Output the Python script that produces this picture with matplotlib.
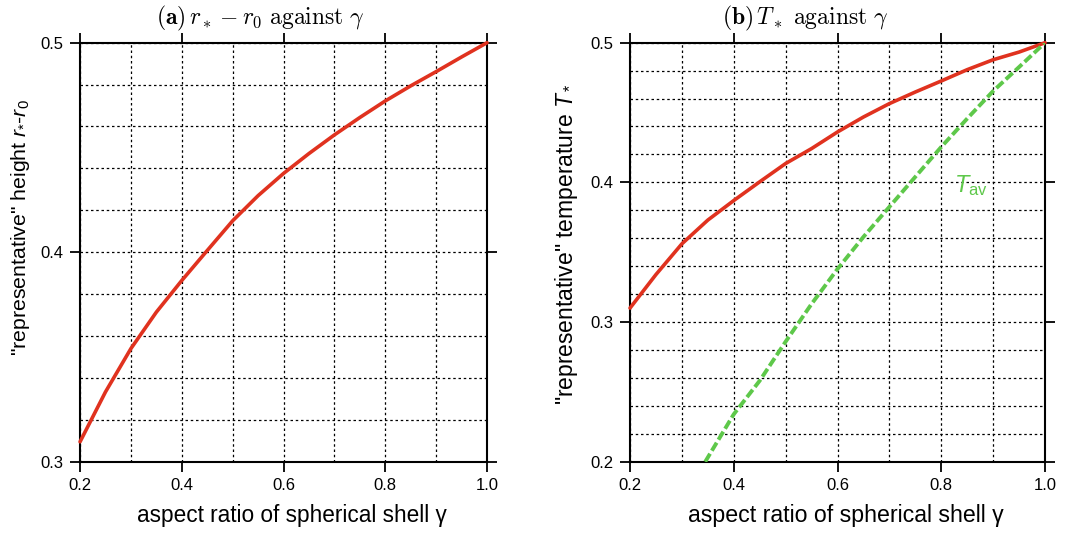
import matplotlib
matplotlib.use('Agg')
import matplotlib.pyplot as plt
import numpy as np
from matplotlib.ticker import MultipleLocator

plt.rcParams['font.family'] = ['Liberation Sans', 'DejaVu Sans']
plt.rcParams['mathtext.fontset'] = 'custom'
plt.rcParams['mathtext.rm'] = 'Liberation Sans'
plt.rcParams['mathtext.it'] = 'Liberation Sans:italic'
plt.rcParams['mathtext.bf'] = 'Liberation Sans:bold'

# aspect ratio of the spherical shell
gamma = [0.2, 0.25, 0.3, 0.35, 0.4, 0.45, 0.5, 0.55, 0.6, 0.65, 0.7,
         0.75, 0.8, 0.85, 0.9, 0.95, 1.0]
# representative height r* - r0
height = [0.3095, 0.3333, 0.354, 0.3714, 0.3865, 0.4008, 0.415, 0.427, 0.4376,
          0.4471, 0.456, 0.4643, 0.4722, 0.4794, 0.4862, 0.4932, 0.5]
# representative temperature T*
temp = [0.310, 0.334, 0.356, 0.373, 0.387, 0.4004, 0.4135, 0.4242, 0.4361,
        0.4468, 0.4564, 0.4647, 0.4726, 0.4807, 0.4878, 0.4933, 0.5]
# average temperature T_av
gamma_av = [0.345, 0.4, 0.45, 0.5, 0.55, 0.6, 0.65, 0.7, 0.75, 0.8, 0.85, 0.9, 0.95, 1.0]
temp_av = [0.2, 0.234, 0.258, 0.286, 0.313, 0.338, 0.361, 0.3825, 0.404,
           0.4254, 0.4457, 0.4654, 0.4826, 0.5]

RED = '#e0321f'
GREEN = '#5ec84a'

fig = plt.figure(figsize=(10.7, 5.35), dpi=100)
ax1 = fig.add_axes([0.0748, 0.137, 0.3804, 0.7832])
ax2 = fig.add_axes([0.5888, 0.137, 0.3879, 0.7832])


def style_axes(ax, ylo, yhi, xlabel_size):
    ax.set_xlim(0.2, 1.0)
    ax.set_ylim(ylo, yhi)
    ax.xaxis.set_major_locator(MultipleLocator(0.2))
    ax.xaxis.set_minor_locator(MultipleLocator(0.1))
    ax.yaxis.set_major_locator(MultipleLocator(0.1))
    ax.yaxis.set_minor_locator(MultipleLocator(0.02))
    ax.grid(which='both', color='black', linestyle=(0, (2, 2.2)), linewidth=0.9)
    ax.tick_params(which='major', direction='out', length=7, width=1.3,
                   top=True, right=True, labelsize=12, pad=5)
    ax.tick_params(which='minor', length=0)
    ax.xaxis.set_major_formatter(lambda v, p: '%.1f' % v)
    ax.yaxis.set_major_formatter(lambda v, p: '%.1f' % v)
    for s in ax.spines.values():
        s.set_linewidth(1.5)
    ax.set_xlabel('aspect ratio of spherical shell γ', fontsize=xlabel_size, va='top')
    ax.xaxis.set_label_coords(0.521, -0.1)


style_axes(ax1, 0.3, 0.5, 16.3)
ax1.plot(gamma, height, color=RED, lw=2.6, solid_capstyle='round', clip_on=False, zorder=3)
ax1.set_ylabel('"representative" height $r_{*}$-$r_0$', fontsize=15.3)
ax1.yaxis.set_label_coords(-0.118, 0.558)
ax1.text(0.442, 1.058, r'$\mathbf{(a)}\,r_* - r_0\ \mathrm{against}\ \gamma$',
         transform=ax1.transAxes, ha='center', va='center', fontsize=17,
         math_fontfamily='cm')

style_axes(ax2, 0.2, 0.5, 16.7)
ax2.plot(gamma, temp, color=RED, lw=2.6, solid_capstyle='round', clip_on=False, zorder=3)
ax2.plot(gamma_av, temp_av, color=GREEN, lw=2.8, linestyle=(0, (2.4, 0.9)), zorder=3)
ax2.text(0.857, 0.398, r'$T_{\mathrm{av}}$', color=GREEN, fontsize=17,
         ha='center', va='center', zorder=4)
ax2.set_ylabel('"representative" temperature $T_*$', fontsize=16.5)
ax2.yaxis.set_label_coords(-0.12, 0.52)
ax2.text(0.423, 1.058, r'$\mathbf{(b)}\,T_*\ \mathrm{against}\ \gamma$',
         transform=ax2.transAxes, ha='center', va='center', fontsize=17,
         math_fontfamily='cm')

fig.savefig('out.png', dpi=100)
